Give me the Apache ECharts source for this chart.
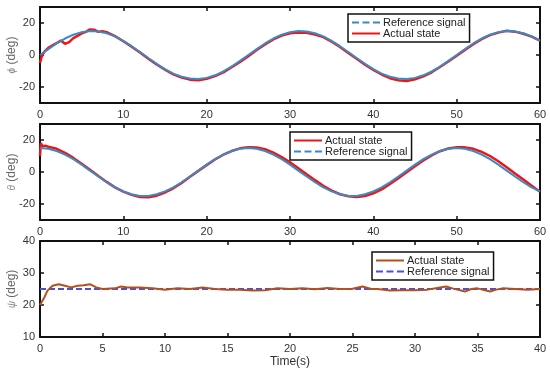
<!DOCTYPE html>
<html><head><meta charset="utf-8">
<script src="https://cdn.jsdelivr.net/npm/echarts@6/dist/echarts.min.js"></script>
<style>html,body{margin:0;padding:0;background:#fff}#c{width:550px;height:374px}</style>
</head><body><div id="c"></div>
<script>
// ---------- data ----------
const tRef60 = [0,1,2,3,4,5,6,7,8,9,10,11,12,13,14,15,16,17,18,19,20,21,22,23,24,25,26,27,28,29,30,31,32,33,34,35,36,37,38,39,40,41,42,43,44,45,46,47,48,49,50,51,52,53,54,55,56,57,58,59,60];

const phiRef = [0,3.7,7.2,10.3,12.7,14.3,15.0,14.7,13.6,11.6,8.8,5.5,1.9,-1.9,-5.5,-8.8,-11.6,-13.6,-14.7,-15.0,-14.3,-12.7,-10.3,-7.2,-3.7,0,3.7,7.2,10.3,12.7,14.3,15.0,14.7,13.6,11.6,8.8,5.5,1.9,-1.9,-5.5,-8.8,-11.6,-13.6,-14.7,-15.0,-14.3,-12.7,-10.3,-7.2,-3.7,0,3.7,7.2,10.3,12.7,14.3,15.0,14.7,13.6,11.6,8.8];

const tPhiAct = [0,0.2,0.5,1,1.5,2,2.5,3,3.5,4,4.5,5,5.5,6,6.5,7,7.5,8,9,10,11,12,13,14,15,16,17,18,19,20,21,22,23,24,25,26,27,28,29,30,31,32,33,34,35,36,37,38,39,40,41,42,43,44,45,46,47,48,49,50,51,52,53,54,55,56,57,58,59,60];
const phiAct = [-5,-1,2,4.5,6,7.5,9,7,8,10.5,12,13.5,14.5,16,15.8,14.5,14.8,14.3,11.8,8.6,5.2,1.6,-2.3,-5.9,-9.2,-12.1,-14.1,-15.4,-15.8,-14.9,-13.2,-10.9,-7.6,-4.4,-0.7,3.1,6.6,9.7,12.1,13.6,14.1,13.9,12.8,11.2,8.3,5.0,1.2,-2.4,-6.0,-9.3,-12.2,-14.5,-15.8,-16.3,-15.2,-13.4,-10.8,-7.5,-4.1,-0.5,3.2,6.8,9.9,12.4,14.0,15.2,14.6,13.3,11.5,9.0];

const thetaRef = [15,14.5,13.1,10.9,8.0,4.6,0.9,-2.8,-6.4,-9.6,-12.1,-13.9,-15.0,-15.0,-13.9,-12.1,-9.6,-6.4,-2.8,0.9,4.6,8.0,10.9,13.1,14.5,15.0,14.5,13.1,10.9,8.0,4.6,0.9,-2.8,-6.4,-9.6,-12.1,-13.9,-15.0,-15.0,-13.9,-12.1,-9.6,-6.4,-2.8,0.9,4.6,8.0,10.9,13.1,14.5,15.0,14.5,13.1,10.9,8.0,4.6,0.9,-2.8,-6.4,-9.6,-12.1];

const tThetaAct = [0,0.1,0.3,0.6,1,1.5,2,3,4,5,6,7,8,9,10,11,12,13,14,15,16,17,18,19,20,21,22,23,24,25,26,27,28,29,30,31,32,33,34,35,36,37,38,39,40,41,42,43,44,45,46,47,48,49,50,51,52,53,54,55,56,57,58,59,60];
const thetaAct = [10,18,16,16.5,15.8,15.2,14.5,12,8.8,5.2,1.4,-2.5,-6.2,-9.6,-12.3,-14.3,-15.6,-15.8,-14.8,-12.8,-10.2,-6.8,-3.0,0.7,4.3,7.8,10.8,13.1,14.8,15.4,15.3,14.2,12.1,9.3,6.0,2.4,-1.4,-5.1,-8.6,-11.6,-13.9,-15.2,-15.6,-15.0,-13.3,-10.9,-7.5,-3.9,-0.2,3.6,7.2,10.4,13.0,14.7,15.4,15.4,14.5,12.6,10.0,6.7,3.0,-0.9,-4.7,-8.6,-12.3];

const tPsiRef = [0,40];
const psiRef = [25,25];

const tPsiAct = [0,0.3,0.6,1,1.5,2,2.5,3,3.5,4,4.5,5,6,6.5,7,8,9,10,11,12,13,14,15,16,17,18,19,20,21,22,23,24,25,25.8,26.5,27,28,29,30,31,32,32.5,33,34,34.5,35,36,36.5,37,38,39,40];
const psiAct = [20,22,24.5,26,26.5,26,25.5,26,26.2,26.5,25.5,25,25.2,25.8,25.5,25.5,25.2,24.8,25.2,25,25.5,25,24.8,24.8,24.5,24.6,25.2,25,25.2,24.9,25.3,25,25.1,25.8,25,25,24.5,24.6,24.6,24.8,25.5,25.8,25.2,24.2,25,25.2,24.2,24.8,25.2,25,24.8,25];

const xTicks1 = {min:0, max:60, interval:10};
const xTicks3 = {min:0, max:40, interval:5};
const yTicksAng = [-20,0,20];
const legendNames = {r1:'Reference signal', a1:'Actual state', a2:'Actual state', r2:'Reference signal', a3:'Actual state', r3:'Reference signal'};

// ---------- chart ----------
const pair = (t, v) => t.map((x, i) => [x, v[i]]);
const FONT = 'Liberation Sans, Arial, sans-serif';
const lblStyle = {fontSize:11, color:'#333', fontFamily:FONT};
const grids = [
  {left:40, top:7, width:500, height:96, outerBoundsMode:'none', containLabel:false},
  {left:40, top:124, width:500, height:96, outerBoundsMode:'none', containLabel:false},
  {left:40, top:241, width:500, height:96, outerBoundsMode:'none', containLabel:false}
];
const axLine = {show:true, onZero:false, lineStyle:{color:'#111', width:2}};
const tick = {show:true, inside:true, length:4, lineStyle:{color:'#111', width:1.5}};

function xPair(g, rng, extra) {
  return [
    Object.assign({type:'value', gridIndex:g, position:'bottom', min:rng.min, max:rng.max, interval:rng.interval,
      axisLine:axLine, axisTick:tick, splitLine:{show:false},
      axisLabel:Object.assign({margin:6}, lblStyle)}, extra || {}),
    {type:'value', gridIndex:g, position:'top', min:rng.min, max:rng.max, interval:rng.interval,
      axisLine:axLine, axisTick:tick, splitLine:{show:false}, axisLabel:{show:false}}
  ];
}
function yPair(g, cfg, name) {
  const base = {type:'value', gridIndex:g, min:cfg.min, max:cfg.max, splitLine:{show:false}, axisLine:axLine};
  const tk = Object.assign({}, tick);
  const lb = Object.assign({margin:5}, lblStyle);
  if (cfg.custom) { tk.customValues = cfg.custom; lb.customValues = cfg.custom; }
  else base.interval = cfg.interval;
  return [
    Object.assign({}, base, {position:'left', axisTick:tk, axisLabel:lb,
      name:name, nameLocation:'middle', nameGap:22, nameMoveOverlap:false,
      nameTextStyle:{fontSize:12, color:'#666', fontFamily:FONT,
        rich:{g:{fontSize:10, fontStyle:'italic', color:'#888'}}}}),
    Object.assign({}, base, {position:'right', axisTick:Object.assign({}, tk), axisLabel:{show:false}})
  ];
}

const xAxis = [].concat(
  xPair(0, xTicks1), xPair(1, xTicks1),
  xPair(2, xTicks3, {name:'Time(s)', nameLocation:'middle', nameGap:19, nameMoveOverlap:false,
    nameTextStyle:{fontSize:12, color:'#333', fontFamily:FONT}})
);
const yAxis = [].concat(
  yPair(0, {min:-30, max:30, custom:yTicksAng}, '{g|\u03d5} (deg)'),
  yPair(1, {min:-30, max:30, custom:yTicksAng}, '{g|\u03b8} (deg)'),
  yPair(2, {min:10, max:40, interval:10}, '{g|\u03c8} (deg)')
);

function line(name, data, xi, color, width, dashed) {
  return {type:'line', name:name, data:data, xAxisIndex:xi, yAxisIndex:xi, showSymbol:false, symbol:'none',
    animation:false, lineStyle:{color:color, width:width, type:dashed ? [6,3] : 'solid'}, itemStyle:{color:color}};
}

const cRed = '#f01414', cBlue = '#3a8ac6', cBrown = '#b4501e', cPurple = '#4a4fd8';
const series = [
  line('a1', pair(tPhiAct, phiAct), 0, cRed, 2.5),
  line('r1', pair(tRef60, phiRef), 0, cBlue, 2),
  line('a2', pair(tThetaAct, thetaAct), 2, cRed, 2.5),
  line('r2', pair(tRef60, thetaRef), 2, cBlue, 2),
  line('r3', pair(tPsiRef, psiRef), 4, cPurple, 2, true),
  line('a3', pair(tPsiAct, psiAct), 4, cBrown, 2)
];

const ICON_SOLID = 'path://M0 0h28v2h-28z';
const ICON_DASH = 'path://M0 0h7v2h-7z M10.5 0h7v2h-7z M21 0h7v2h-7z';

function legend(items, left, top, dashedName) {
  return {orient:'vertical', left:left, top:top, padding:[3,4,3,4], itemGap:0, itemWidth:28, itemHeight:2,
    backgroundColor:'#fff', borderColor:'#111', borderWidth:1.5, borderRadius:0,
    selectedMode:false, formatter:n => legendNames[n],
    textStyle:{fontSize:11, lineHeight:11, color:'#222', padding:[0,0,0,-2], fontFamily:FONT},
    data:items.map(n => ({name:n, icon: n === dashedName ? ICON_DASH : ICON_SOLID}))};
}

const chart = echarts.init(document.getElementById('c'), null, {renderer:'canvas'});
chart.setOption({
  animation:false,
  backgroundColor:'#fff',
  grid:grids,
  xAxis:xAxis,
  yAxis:yAxis,
  legend:[
    legend(['r1','a1'], 348, 14, 'r1'),
    legend(['a2','r2'], 290, 132, 'r2'),
    legend(['a3','r3'], 372, 252, 'r3')
  ],
  series:series
});
</script></body></html>
